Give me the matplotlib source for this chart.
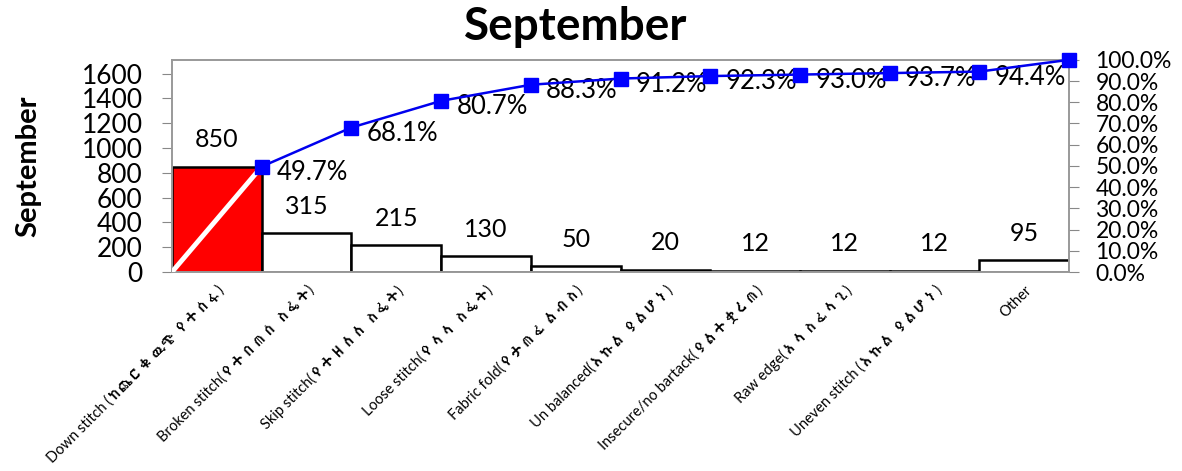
import matplotlib
matplotlib.use("Agg")
import matplotlib.pyplot as plt
from matplotlib import font_manager
from matplotlib.ft2font import FT2Font

categories = [
    "Down stitch (ከጨርቁ ዉጭ የተሰፋ)",
    "Broken stitch(የተበጠሰ ስፌት)",
    "Skip stitch(የተዘለለ ስፌት)",
    "Loose stitch(የላላ ስፌት)",
    "Fabric fold(የታጠፈ ልብስ)",
    "Un balanced(እኩል ያልሆነ)",
    "Insecure/no bartack(ያልተቋረጠ)",
    "Raw edge(አላስፈላጊ)",
    "Uneven stitch (እኩል ያልሆነ)",
    "Other",
]
counts = [850, 315, 215, 130, 50, 20, 12, 12, 12, 95]
cum_pct_labels = ["49.7%", "68.1%", "80.7%", "88.3%", "91.2%", "92.3%", "93.0%", "93.7%", "94.4%", ""]
left_ticks = [0, 200, 400, 600, 800, 1000, 1200, 1400, 1600]
right_ticks = [0, 10, 20, 30, 40, 50, 60, 70, 80, 90, 100]

# find a font with Ethiopic glyphs
eth_family = None
for fe in font_manager.fontManager.ttflist:
    try:
        cm = FT2Font(fe.fname).get_charmap()
        if 0x12A8 in cm and 0x1275 in cm:
            eth_family = fe.name
            break
    except Exception:
        pass

base = "Lato"
fam = [base] + ([eth_family] if eth_family else []) + ["DejaVu Sans"]
plt.rcParams["font.family"] = fam

total = sum(counts)
cum = []
s = 0
for c in counts:
    s += c
    cum.append(s)

fig = plt.figure(figsize=(11.82, 4.71), dpi=100)
ax = fig.add_axes([0.1455, 0.4225, 0.759, 0.4505])
n = len(counts)
xs = list(range(n))
colors = ["#FF0000"] + ["white"] * (n - 1)
ax.bar(xs, counts, width=1.0, color=colors, edgecolor="black", linewidth=1.8, zorder=2)
ax.set_xlim(-0.5, n - 0.5)
ax.set_ylim(0, total)
ax.set_yticks(left_ticks)
ax.set_yticklabels([str(t) for t in left_ticks], fontsize=19)
ax.tick_params(axis="y", length=7, color="#888888", pad=14)
ax.set_xticks(xs)
ax.set_xticklabels(categories, rotation=45, ha="right", rotation_mode="anchor", fontsize=10.5)
ax.tick_params(axis="x", length=0, pad=8)
for sp in ax.spines.values():
    sp.set_color("#999999")
    sp.set_linewidth(1.2)

for x, c in zip(xs, counts):
    ax.annotate(str(c), (x, c), xytext=(0, 11), textcoords="offset points",
                ha="center", va="bottom", fontsize=18)

fig.text(28 / 1182, 1 - 166 / 471, "September", rotation=90, ha="center", va="center",
         fontsize=21, fontweight="bold")
fig.text(576 / 1182, 1 - 27 / 471, "September", ha="center", va="center", fontsize=33, fontweight="bold")

ax2 = ax.twinx()
ax2.set_ylim(0, 100)
ax2.set_yticks(right_ticks)
ax2.set_yticklabels(["%.1f%%" % t for t in right_ticks], fontsize=16.5)
ax2.tick_params(axis="y", length=7, color="#888888", pad=12)
for sp in ax2.spines.values():
    sp.set_color("#999999")
    sp.set_linewidth(1.2)

px = [x + 0.5 for x in xs]
py = [c / total * 100 for c in cum]
ax2.plot([-0.5, px[0]], [0, py[0]], color="white", linewidth=3.5, zorder=3)
ax2.plot(px, py, color="#0000EE", linewidth=1.8, marker="s", markersize=10,
         markerfacecolor="#0000FF", markeredgecolor="#0000FF", zorder=4, clip_on=False)
for x, y, lab in zip(px, py, cum_pct_labels):
    if lab:
        ax2.annotate(lab, (x, y), xytext=(11, -4), textcoords="offset points",
                     ha="left", va="center", fontsize=18.5)

fig.savefig("out.png", dpi=100)
